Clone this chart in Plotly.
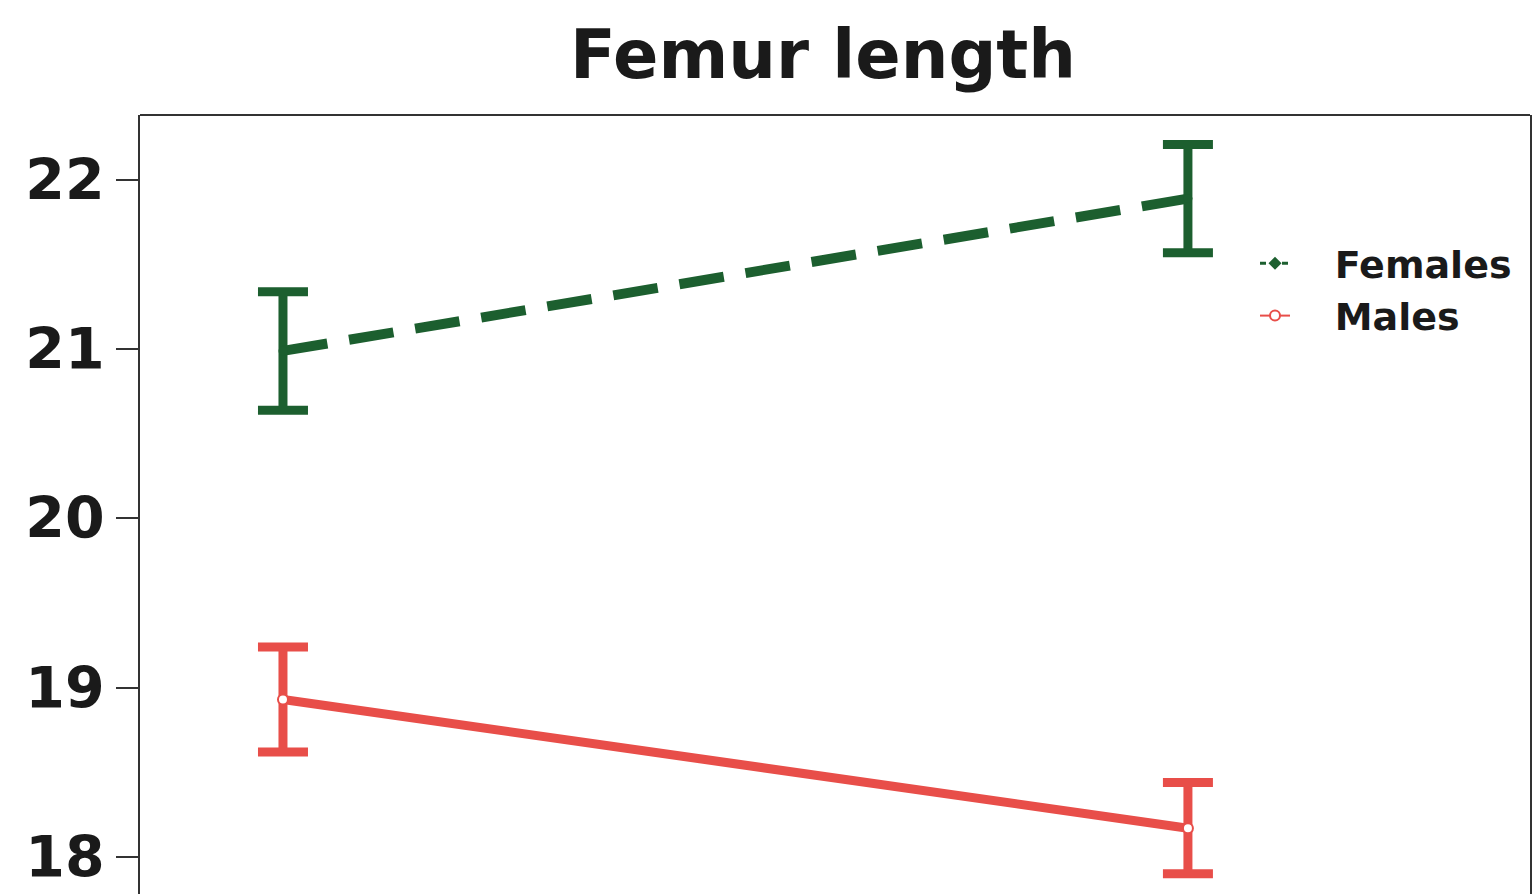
import plotly.graph_objects as go

groups = ["Group 1", "Group 2"]
x_pos = [1, 2]
females_mean = [20.99, 21.89]
females_err = [0.35, 0.32]
males_mean = [18.93, 18.17]
males_err = [0.31, 0.27]
y_ticks = [18, 19, 20, 21, 22]

GREEN = "#1c5f2f"
RED = "#e84e49"
AX = "#333333"
FONT = "DejaVu Sans"
NB = "\u00a0"

fig = go.Figure()

fig.add_trace(go.Scatter(
    x=x_pos, y=females_mean, mode="lines+markers", showlegend=False,
    line=dict(color=GREEN, width=10, dash="45px,22px"),
    marker=dict(color=GREEN, size=9, symbol="circle"),
    error_y=dict(type="data", array=females_err, visible=True, color=GREEN, thickness=9, width=25),
    text=groups,
))
fig.add_trace(go.Scatter(
    x=x_pos, y=males_mean, mode="lines+markers", showlegend=False,
    line=dict(color=RED, width=9),
    marker=dict(color="white", size=10, symbol="circle", line=dict(color=RED, width=2)),
    error_y=dict(type="data", array=males_err, visible=True, color=RED, thickness=9, width=25),
    text=groups,
))
# legend entries (thin symbols as in the reference)
fig.add_trace(go.Scatter(
    x=[None], y=[None], mode="lines+markers", name=NB * 3 + "Females",
    line=dict(color=GREEN, width=3, dash="6px,5px"),
    marker=dict(color=GREEN, size=10, symbol="diamond"),
))
fig.add_trace(go.Scatter(
    x=[None], y=[None], mode="lines+markers", name=NB * 3 + "Males",
    line=dict(color=RED, width=2),
    marker=dict(color="white", size=10, symbol="circle", line=dict(color=RED, width=2)),
))

fig.update_layout(
    width=1534, height=894,
    margin=dict(l=140, r=4, t=115, b=0, autoexpand=False),
    paper_bgcolor="white", plot_bgcolor="white",
    title=dict(text="Femur length", x=823 / 1534, xanchor="center", xref="container",
               y=1 - 55 / 894, yanchor="middle", yref="container",
               font=dict(family=FONT, size=67, color="#1a1a1a", weight="bold")),
    xaxis=dict(range=[0.842, 2.378], showgrid=False, zeroline=False, showline=False,
               showticklabels=False, ticks=""),
    yaxis=dict(range=[17.781, 22.384], tickvals=y_ticks, ticktext=[str(v) for v in y_ticks],
               showgrid=False, zeroline=False, showline=True, mirror=True,
               linecolor=AX, linewidth=2, ticks="outside", ticklen=22, tickwidth=2,
               tickcolor=AX,
               tickfont=dict(family=FONT, size=57, color="#1a1a1a", weight="bold")),
    legend=dict(x=(1255 - 140) / 1390, y=(894 - 232) / 779, xanchor="left", yanchor="top",
                xref="paper", yref="paper",
                bgcolor="rgba(0,0,0,0)", font=dict(family=FONT, size=38, color="#1a1a1a", weight="bold"),
                tracegroupgap=0),
    shapes=[dict(type="line", xref="paper", yref="paper", x0=0, x1=1, y0=1, y1=1,
                 line=dict(color=AX, width=2))],
)

fig.write_html("out.html", config={"displayModeBar": False},
               post_script="document.body.style.margin='0';document.body.style.overflow='hidden';")
